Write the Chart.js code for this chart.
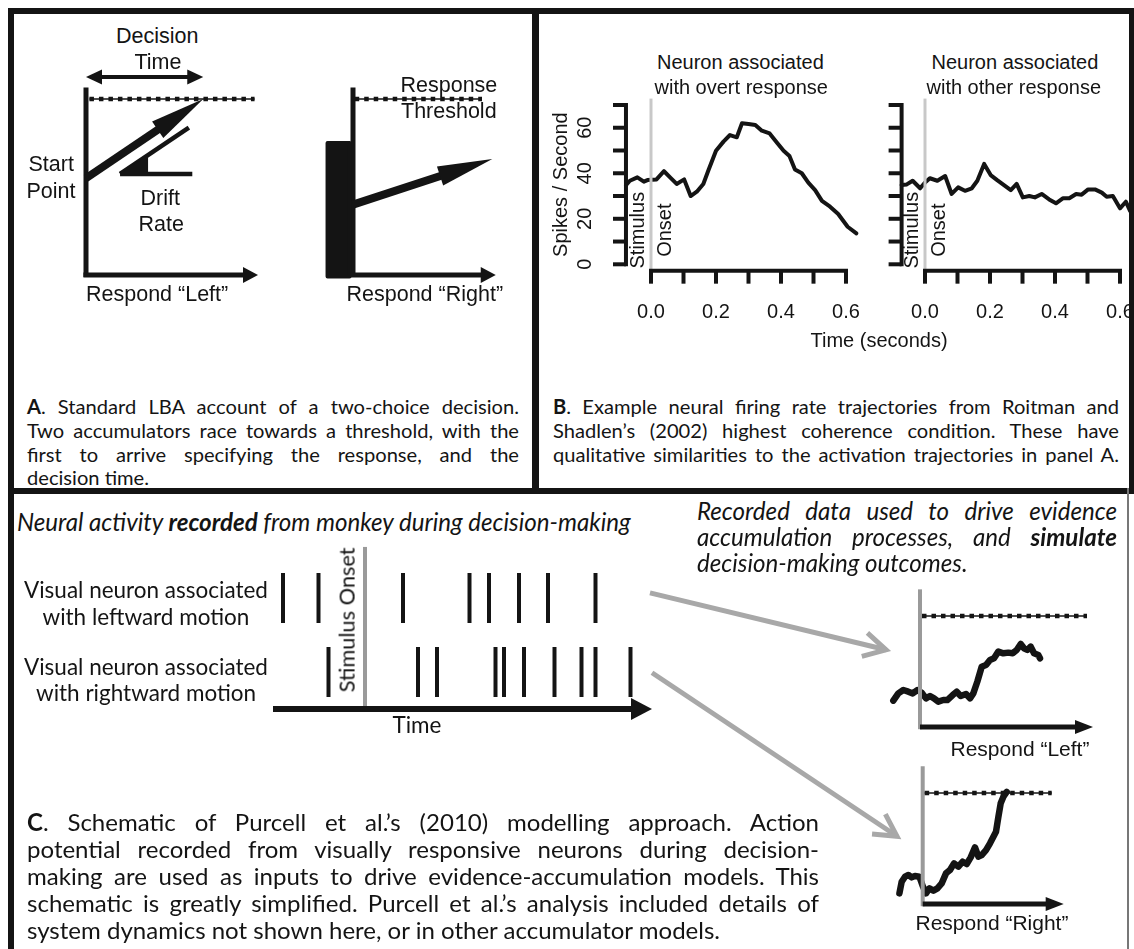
<!DOCTYPE html>
<html>
<head>
<meta charset="utf-8">
<script src="https://cdn.jsdelivr.net/npm/chart.js@4.4.1/dist/chart.umd.min.js"></script>
<style>
  html, body { margin: 0; padding: 0; background: #fff; }
  #fig { position: relative; width: 1134px; height: 949px; overflow: hidden; background: #fff; color: #141414; }
  #fig canvas { position: absolute; }
  .t { position: absolute; white-space: nowrap; line-height: 1; }
  .rule { position: absolute; background: #141414; z-index: 5; }
</style>
</head>
<body>
<div id="fig"></div>
<script>
// ---------------- data ----------------
// Panel B: mean firing rate (spikes/s) against time from stimulus onset (s)
const overtTime = [-0.077,-0.065,-0.042,-0.022,-0.011,0.017,0.040,0.061,0.079,0.102,0.122,0.141,0.161,0.177,0.200,0.223,0.243,0.264,0.280,0.300,0.321,0.341,0.365,0.389,0.408,0.426,0.443,0.464,0.484,0.505,0.526,0.551,0.576,0.605,0.632];
const overtRate = [34.8,36.7,38.2,36.3,37.0,37.3,40.9,37.9,35.3,37.3,30.0,31.9,35.3,41.4,49.9,53.9,56.8,55.8,62.0,61.6,61.2,58.7,57.5,53.2,49.9,47.6,41.7,40.0,35.9,32.6,27.9,25.3,22.1,16.5,13.6];
const otherTime = [-0.072,-0.056,-0.038,-0.015,0.000,0.015,0.038,0.062,0.082,0.102,0.123,0.144,0.161,0.182,0.202,0.222,0.243,0.264,0.282,0.301,0.321,0.338,0.359,0.382,0.403,0.424,0.444,0.465,0.482,0.502,0.523,0.544,0.559,0.578,0.600,0.618,0.631];
const otherRate = [34.8,35.1,36.7,33.4,35.9,37.8,36.7,38.8,30.9,33.8,32.3,33.4,36.7,44.1,39.2,37.0,34.8,32.6,35.3,29.4,30.0,29.4,30.9,28.5,26.8,29.0,29.0,30.9,30.6,32.9,32.9,31.5,29.7,30.0,24.6,27.5,23.5];
const timeTicks = [0, 0.1, 0.2, 0.3, 0.4, 0.5, 0.6];
const timeTickLabels = ['0.0', '', '0.2', '', '0.4', '', '0.6'];
const rateTicks = [0, 10, 20, 30, 40, 50, 60, 70];
const rateTickLabels = ['0', '', '20', '', '40', '', '60', ''];
const rateRegion = [-2.8, 72.8];

// Panel A: linear ballistic accumulators (evidence units, threshold = 1)
const lbaThreshold = 1;
const startPoints = [0.55, 0.40];     // respond "Left", respond "Right"
const driftRates = [0.66, 0.32];
const startPointMax = 0.75;           // upper bound of the start-point range
const rightArrowEnd = 0.81;

// Panel C: spike times (ms from stimulus onset)
const spikesLeftward = [-164, -93, 76, 209, 248, 308, 366, 461];
const spikesRightward = [-73, 106, 144, 261, 278, 318, 379, 433, 461, 531];

// Panel C: simulated accumulators driven by the recorded activity
const leftTraceTime = [-0.267,-0.217,-0.167,-0.117,-0.073,-0.027,0.017,0.06,0.1,0.14,0.183,0.233,0.273,0.327,0.367,0.407,0.46,0.5,0.533,0.573,0.617,0.66,0.7,0.74,0.783,0.833,0.883,0.927,0.967,1.007,1.04,1.073,1.107,1.14,1.183,1.2];
const leftTraceEvidence = [0.237,0.303,0.333,0.318,0.303,0.333,0.309,0.258,0.279,0.258,0.228,0.243,0.243,0.288,0.318,0.279,0.297,0.258,0.303,0.408,0.543,0.558,0.604,0.619,0.679,0.664,0.670,0.664,0.694,0.748,0.709,0.694,0.724,0.664,0.649,0.619];
const rightTraceTime = [-0.233,-0.21,-0.177,-0.143,-0.11,-0.077,-0.033,0,0.033,0.067,0.107,0.147,0.19,0.233,0.273,0.313,0.357,0.4,0.44,0.48,0.523,0.557,0.59,0.633,0.673,0.707,0.733,0.757,0.78,0.807,0.84];
const rightTraceEvidence = [0.096,0.201,0.246,0.261,0.24,0.252,0.246,0.162,0.096,0.141,0.12,0.141,0.186,0.276,0.306,0.366,0.336,0.381,0.36,0.42,0.51,0.426,0.441,0.486,0.547,0.606,0.651,0.786,0.907,0.967,1.01];

// ---------------- helpers ----------------
const INK = '#141414';
const fig = document.getElementById('fig');
const zip = (xs, ys) => xs.map((x, i) => ({ x, y: ys[i] }));

// Canvas at a page box; x/y maps give the pixel of value 0 and pixels per unit.
function chartAt(box, xm, ym, datasets, plugins) {
  const c = document.createElement('canvas');
  c.width = box.w; c.height = box.h;
  Object.assign(c.style, { left: box.l + 'px', top: box.t + 'px', width: box.w + 'px', height: box.h + 'px' });
  fig.appendChild(c);
  const xmin = (box.l - xm[0]) / xm[1], xmax = (box.l + box.w - xm[0]) / xm[1];
  const ymax = (ym[0] - box.t) / ym[1], ymin = (ym[0] - box.t - box.h) / ym[1];
  return new Chart(c, {
    type: 'line',
    data: { datasets },
    options: {
      responsive: false, animation: false, devicePixelRatio: 1, events: [],
      layout: { padding: 0, autoPadding: false },
      plugins: { legend: { display: false }, tooltip: { enabled: false } },
      scales: {
        x: { type: 'linear', min: xmin, max: xmax, display: false },
        y: { type: 'linear', min: ymin, max: ymax, display: false }
      },
      elements: { point: { radius: 0 }, line: { tension: 0 } }
    },
    plugins: [marks].concat(plugins || [])
  });
}

function seg(points, color, width, extra) {
  return Object.assign({ data: points, borderColor: color, borderWidth: width, pointRadius: 0,
    borderCapStyle: 'butt', borderJoinStyle: 'miter', fill: false }, extra || {});
}
function arrow(points, spec) {
  return { data: points, showLine: false, pointRadius: 0, arrow: Object.assign({ color: INK, filled: true }, spec) };
}
function poly(points, color, round) {
  return { data: points, showLine: false, pointRadius: 0, polygon: { color, round: round || 0 } };
}

function drawArrow(ctx, pts, a) {
  const n = pts.length;
  const dir = (tip, from) => { const dx = tip[0] - from[0], dy = tip[1] - from[1], L = Math.hypot(dx, dy); return [dx / L, dy / L]; };
  const ue = dir(pts[n - 1], pts[n - 2]);
  const us = dir(pts[0], pts[1]);
  const shaft = pts.map(p => p.slice());
  const inset = a.filled ? a.len * 0.6 : 0;
  shaft[n - 1] = [pts[n - 1][0] - ue[0] * inset, pts[n - 1][1] - ue[1] * inset];
  if (a.both) shaft[0] = [pts[0][0] - us[0] * inset, pts[0][1] - us[1] * inset];
  ctx.save();
  ctx.strokeStyle = a.color; ctx.fillStyle = a.color;
  ctx.lineWidth = a.width; ctx.lineCap = 'butt'; ctx.lineJoin = 'miter';
  ctx.beginPath();
  shaft.forEach((p, i) => i ? ctx.lineTo(p[0], p[1]) : ctx.moveTo(p[0], p[1]));
  ctx.stroke();
  const head = (tip, u) => {
    const bx = tip[0] - u[0] * a.len, by = tip[1] - u[1] * a.len;
    const nx = -u[1] * a.half, ny = u[0] * a.half;
    ctx.beginPath();
    ctx.moveTo(bx + nx, by + ny); ctx.lineTo(tip[0], tip[1]); ctx.lineTo(bx - nx, by - ny);
    if (a.filled) { ctx.closePath(); ctx.fill(); } else { ctx.stroke(); }
  };
  head(pts[n - 1], ue);
  if (a.both) head(pts[0], us);
  ctx.restore();
}

// Draws arrow and polygon datasets through the chart's scales.
const marks = {
  id: 'marks',
  afterDatasetsDraw(chart) {
    const ctx = chart.ctx, xs = chart.scales.x, ys = chart.scales.y;
    chart.data.datasets.forEach(ds => {
      if (!ds.arrow && !ds.polygon) return;
      const pts = ds.data.map(p => [xs.getPixelForValue(p.x), ys.getPixelForValue(p.y)]);
      if (ds.polygon) {
        ctx.save();
        ctx.beginPath();
        pts.forEach((p, i) => i ? ctx.lineTo(p[0], p[1]) : ctx.moveTo(p[0], p[1]));
        ctx.closePath();
        ctx.fillStyle = ds.polygon.color; ctx.fill();
        if (ds.polygon.round) { ctx.lineJoin = 'round'; ctx.lineWidth = ds.polygon.round; ctx.strokeStyle = ds.polygon.color; ctx.stroke(); }
        ctx.restore();
      }
      if (ds.arrow) drawArrow(ctx, pts, ds.arrow);
    });
  }
};

// R-style axes: lines run from first to last tick, ticks point outward.
function rAxes(cfg) {
  return {
    id: 'rAxes',
    afterDatasetsDraw(chart) {
      const ctx = chart.ctx, xs = chart.scales.x, ys = chart.scales.y;
      const ax = xs.getPixelForValue(cfg.yAxisAt), ay = ys.getPixelForValue(cfg.xAxisAt);
      const font = '20px "Liberation Sans", Arial, sans-serif';
      ctx.save();
      ctx.strokeStyle = INK; ctx.fillStyle = INK; ctx.lineWidth = 4; ctx.lineCap = 'butt';
      // y axis
      const y0 = ys.getPixelForValue(cfg.yTicks[0]), y1 = ys.getPixelForValue(cfg.yTicks[cfg.yTicks.length - 1]);
      ctx.beginPath(); ctx.moveTo(ax, y0 + 2); ctx.lineTo(ax, y1 - 2); ctx.stroke();
      cfg.yTicks.forEach(v => { const y = ys.getPixelForValue(v); ctx.beginPath(); ctx.moveTo(ax, y); ctx.lineTo(ax - 13, y); ctx.stroke(); });
      // x axis
      const x0 = xs.getPixelForValue(cfg.xTicks[0]), x1 = xs.getPixelForValue(cfg.xTicks[cfg.xTicks.length - 1]);
      ctx.beginPath(); ctx.moveTo(x0 - 2, ay); ctx.lineTo(x1 + 2, ay); ctx.stroke();
      cfg.xTicks.forEach(v => { const x = xs.getPixelForValue(v); ctx.beginPath(); ctx.moveTo(x, ay); ctx.lineTo(x, ay + 13); ctx.stroke(); });
      ctx.font = font; ctx.textAlign = 'center'; ctx.textBaseline = 'middle';
      cfg.xTicks.forEach((v, i) => { if (cfg.xLabels[i]) ctx.fillText(cfg.xLabels[i], xs.getPixelForValue(v), ay + 42); });
      const rot = (s, x, y) => { ctx.save(); ctx.translate(x, y); ctx.rotate(-Math.PI / 2); ctx.fillText(s, 0, 0); ctx.restore(); };
      cfg.yTicks.forEach((v, i) => { if (cfg.yLabels[i]) rot(cfg.yLabels[i], ax - 40, ys.getPixelForValue(v)); });
      if (cfg.yTitle) rot(cfg.yTitle, ax - 64, ys.getPixelForValue((cfg.yTicks[0] + cfg.yTicks[cfg.yTicks.length - 1]) / 2));
      const ox = xs.getPixelForValue(0), oy = ys.getPixelForValue(15);
      rot('Stimulus', ox - 13, oy);
      rot('Onset', ox + 14, oy);
      ctx.restore();
    }
  };
}

// ---------------- text helpers ----------------
function fitSize(html, family, target, style) {
  const s = document.createElement('span');
  s.style.cssText = 'position:absolute;white-space:nowrap;visibility:hidden;font-size:100px;font-family:' + family + ';' + (style || '');
  s.innerHTML = html; fig.appendChild(s);
  const w = s.getBoundingClientRect().width; s.remove();
  return 100 * target / w;
}
function txt(html, x, y, family, size, opt) {
  opt = opt || {};
  const d = document.createElement('div');
  d.className = 't'; d.innerHTML = html;
  d.style.fontFamily = family; d.style.fontSize = size + 'px';
  if (opt.italic) d.style.fontStyle = 'italic';
  fig.appendChild(d);
  const w = d.offsetWidth, h = d.offsetHeight;
  const left = opt.align === 'l' ? x : opt.align === 'r' ? x - w : x - w / 2;
  d.style.left = left + 'px'; d.style.top = (y - h / 2) + 'px';
  if (opt.rot) d.style.transform = 'rotate(-90deg)';
  return d;
}
function jline(html, x, y, width, family, size, justify, italic) {
  const d = document.createElement('div');
  d.className = 't';
  d.style.whiteSpace = 'normal';
  d.style.width = width + 'px';
  d.style.fontFamily = family; d.style.fontSize = size + 'px';
  d.style.textAlign = 'justify';
  d.style.textAlignLast = justify ? 'justify' : 'left';
  if (italic) d.style.fontStyle = 'italic';
  d.innerHTML = html;
  fig.appendChild(d);
  let s = size;
  while (d.offsetHeight > size * 1.5 && s > 8) { s -= 0.2; d.style.fontSize = s + 'px'; }
  d.style.left = x + 'px'; d.style.top = (y - d.offsetHeight / 2) + 'px';
  return d;
}

const SANS = '"Liberation Sans", Arial, sans-serif';
const CAP = 'Lato, "Open Sans", sans-serif';

// ---------------- panel A: LBA schematic ----------------
const leftDecision = (lbaThreshold - startPoints[0]) / driftRates[0];
const driftVertex = { x: 0.198, y: 0.574 };
const wedge = 0.163;
chartAt({ l: 60, t: 60, w: 215, h: 235 }, [86, 172], [275, 176], [
  seg([{ x: 0, y: -0.012 }, { x: 0, y: 1.065 }], INK, 5),
  arrow([{ x: -0.015, y: 0 }, { x: 1.0, y: 0 }], { width: 5, len: 15, half: 8 }),
  seg([{ x: 0.02, y: lbaThreshold }, { x: 0.98, y: lbaThreshold }], INK, 1.5),
  seg([{ x: 0.02, y: lbaThreshold }, { x: 0.98, y: lbaThreshold }], INK, 4.5, { borderDash: [4.5, 5] }),
  arrow([{ x: 0, y: startPoints[0] }, { x: leftDecision, y: lbaThreshold }], { width: 8, len: 55, half: 10 }),
  arrow([{ x: 0, y: 1.125 }, { x: leftDecision, y: 1.125 }], { width: 4, len: 16, half: 7.5, both: true }),
  seg([driftVertex, { x: driftVertex.x + 0.42, y: driftVertex.y }], INK, 4.5),
  seg([driftVertex, { x: driftVertex.x + 0.4, y: driftVertex.y + 0.4 * driftRates[0] }], INK, 4.5),
  poly([driftVertex, { x: driftVertex.x + wedge, y: driftVertex.y }, { x: driftVertex.x + wedge, y: driftVertex.y + wedge * driftRates[0] }], INK)
]);

chartAt({ l: 315, t: 80, w: 195, h: 215 }, [353, 172], [275, 176], [
  poly([{ x: -0.148, y: -0.008 }, { x: -0.02, y: -0.008 }, { x: -0.02, y: startPointMax }, { x: -0.148, y: startPointMax }], INK, 4),
  seg([{ x: 0, y: -0.012 }, { x: 0, y: 1.065 }], INK, 5),
  arrow([{ x: -0.015, y: 0 }, { x: 0.83, y: 0 }], { width: 5, len: 15, half: 8 }),
  seg([{ x: 0.01, y: lbaThreshold }, { x: 0.75, y: lbaThreshold }], INK, 1.5),
  seg([{ x: 0.01, y: lbaThreshold }, { x: 0.75, y: lbaThreshold }], INK, 4.5, { borderDash: [4.5, 5] }),
  arrow([{ x: 0, y: startPoints[1] }, { x: rightArrowEnd, y: startPoints[1] + driftRates[1] * rightArrowEnd }], { width: 8, len: 55, half: 10 })
]);

const aSize = 21.5;
txt('Decision', 157, 37, SANS, aSize);
txt('Time', 158, 63, SANS, aSize);
txt('Start', 51, 165, SANS, aSize);
txt('Point', 51, 192, SANS, aSize);
txt('Drift', 160, 199, SANS, aSize);
txt('Rate', 161, 225, SANS, aSize);
txt('Response', 449, 86, SANS, aSize);
txt('Threshold', 449, 112, SANS, aSize);
txt('Respond “Left”', 157, 295, SANS, aSize);
txt('Respond “Right”', 425, 295, SANS, aSize);

// ---------------- panel B: firing-rate trajectories ----------------
const onsetGray = '#c8c8c8';
chartAt({ l: 545, t: 92, w: 325, h: 245 }, [651, 325], [264.3, 2.276], [
  seg([{ x: 0, y: rateRegion[0] }, { x: 0, y: rateRegion[1] }], onsetGray, 3, { order: 0 }),
  seg(zip(overtTime, overtRate), INK, 4, { borderJoinStyle: 'round', borderCapStyle: 'round', order: 1 })
], [rAxes({ yAxisAt: overtTime[0], xAxisAt: rateRegion[0], xTicks: timeTicks, xLabels: timeTickLabels,
            yTicks: rateTicks, yLabels: rateTickLabels, yTitle: 'Spikes / Second' })]);

chartAt({ l: 870, t: 92, w: 264, h: 245 }, [925, 325], [264.3, 2.276], [
  seg([{ x: 0, y: rateRegion[0] }, { x: 0, y: rateRegion[1] }], onsetGray, 3, { order: 0 }),
  seg(zip(otherTime, otherRate), INK, 4, { borderJoinStyle: 'round', borderCapStyle: 'round', order: 1 })
], [rAxes({ yAxisAt: otherTime[0], xAxisAt: rateRegion[0], xTicks: timeTicks, xLabels: timeTickLabels,
            yTicks: rateTicks, yLabels: rateTicks.map(() => ''), yTitle: '' })]);

txt('Neuron associated', 740.5, 62, SANS, 20);
txt('with overt response', 741, 87, SANS, 20);
txt('Neuron associated', 1015, 62, SANS, 20);
txt('with other response', 1014, 87, SANS, 20);
txt('Time (seconds)', 879, 340, SANS, 20);

// ---------------- captions A and B ----------------
const capSize = 0.96 * fitSize('qualitative similarities to the activation trajectories in panel A.', CAP, 566);
const capA = ['<b>A</b>. Standard LBA account of a two-choice decision.',
              'Two accumulators race towards a threshold, with the',
              'first to arrive specifying the response, and the',
              'decision time.'];
const capB = ['<b>B</b>. Example neural firing rate trajectories from Roitman and',
              'Shadlen’s (2002) highest coherence condition. These have',
              'qualitative similarities to the activation trajectories in panel A.'];
const capRows = [406, 430, 454, 477];
capA.forEach((s, i) => jline(s, 27, capRows[i], 492, CAP, capSize, i < capA.length - 1));
capB.forEach((s, i) => jline(s, 553, capRows[i], 566, CAP, capSize, true));

// ---------------- panel C: spike raster and driven accumulators ----------------
const gray = '#9a9a9a';
const linkGray = '#a8a8a8';
chartAt({ l: 265, t: 540, w: 640, h: 310 }, [365, 0.5], [746, 74], [
  seg(spikesLeftward.map(t => ({ x: t, y: 2 })), INK, 0, { showLine: false, pointStyle: 'line', pointRadius: 25,
      pointRotation: 90, pointBorderWidth: 4, pointBorderColor: INK }),
  seg(spikesRightward.map(t => ({ x: t, y: 1 })), INK, 0, { showLine: false, pointStyle: 'line', pointRadius: 25,
      pointRotation: 90, pointBorderWidth: 4, pointBorderColor: INK }),
  seg([{ x: 0, y: 0.5 }, { x: 0, y: 2.69 }], gray, 4),
  arrow([{ x: -184, y: 0.5 }, { x: 574, y: 0.5 }], { width: 6, len: 21, half: 11 }),
  arrow([{ x: 570, y: 2.07 }, { x: 1042, y: 1.30 }], { width: 5, len: 22, half: 12, filled: false, color: linkGray }),
  arrow([{ x: 574, y: 0.99 }, { x: 1064, y: -1.22 }], { width: 5, len: 22, half: 12, filled: false, color: linkGray })
]);

function accumulator(box, xm, ym, times, evidence, axisEnd, thrEnd) {
  chartAt(box, xm, ym, [
    seg([{ x: 0.02, y: lbaThreshold }, { x: thrEnd, y: lbaThreshold }], INK, 1.5),
    seg([{ x: 0.02, y: lbaThreshold }, { x: thrEnd, y: lbaThreshold }], INK, 4.5, { borderDash: [4.5, 5] }),
    seg(zip(times, evidence), INK, 6.5, { borderJoinStyle: 'round', borderCapStyle: 'round', order: 1 }),
    seg([{ x: 0, y: -0.02 }, { x: 0, y: 1.24 }], gray, 4, { order: 0 }),
    arrow([{ x: 0, y: 0 }, { x: axisEnd, y: 0 }], { width: 5, len: 18, half: 7 })
  ]);
}
accumulator({ l: 880, t: 575, w: 225, h: 170 }, [920, 100], [727, 111], leftTraceTime, leftTraceEvidence, 1.73, 1.67);
accumulator({ l: 885, t: 755, w: 195, h: 170 }, [922.7, 100], [904, 111], rightTraceTime, rightTraceEvidence, 1.41, 1.29);

txt('Respond “Left”', 1020, 748, SANS, 21);
txt('Respond “Right”', 992, 922, SANS, 21);

const italicSize = fitSize('<i>Neural activity <b>recorded</b> from monkey during decision-making</i>', CAP, 614);
txt('Neural activity <b>recorded</b> from monkey during decision-making', 17, 522, CAP, italicSize, { align: 'l', italic: true });

jline('Recorded data used to drive evidence', 697, 511, 420, CAP, italicSize, true, true);
jline('accumulation processes, and <b>simulate</b>', 697, 537, 420, CAP, italicSize, true, true);
jline('decision-making outcomes.', 697, 563, 420, CAP, italicSize, false, true);

const rowSize = fitSize('Visual neuron associated', CAP, 244);
txt('Visual neuron associated', 146, 590, CAP, rowSize);
txt('with leftward motion', 146, 617, CAP, rowSize);
txt('Visual neuron associated', 146, 667, CAP, rowSize);
txt('with rightward motion', 146, 693, CAP, rowSize);
const onsetSize = fitSize('Stimulus Onset', CAP, 145);
txt('Stimulus Onset', 347, 620, CAP, onsetSize, { rot: true });
txt('Time', 417, 725, CAP, rowSize);

const capCSize = 0.97 * fitSize('system dynamics not shown here, or in other accumulator models.', CAP, 715);
const capC = ['<b>C</b>. Schematic of Purcell et al.’s (2010) modelling approach. Action',
              'potential recorded from visually responsive neurons during decision-',
              'making are used as inputs to drive evidence-accumulation models. This',
              'schematic is greatly simplified. Purcell et al.’s analysis included details of',
              'system dynamics not shown here, or in other accumulator models.'];
const capCRows = [822, 849, 876, 903, 930];
capC.forEach((s, i) => jline(s, 27, capCRows[i], 792, CAP, capCSize, i < capC.length - 1));

// ---------------- frame ----------------
function rule(l, t, w, h, color) {
  const d = document.createElement('div');
  d.className = 'rule';
  Object.assign(d.style, { left: l + 'px', top: t + 'px', width: w + 'px', height: h + 'px' });
  if (color) d.style.background = color;
  fig.appendChild(d);
}
rule(8, 8, 1126, 6);
rule(8, 8, 6, 941);
rule(532, 8, 7, 486);
rule(8, 488, 1126, 6);
rule(1129, 8, 5, 486);
rule(1127, 488, 2, 461, '#777');
</script>
</body>
</html>
